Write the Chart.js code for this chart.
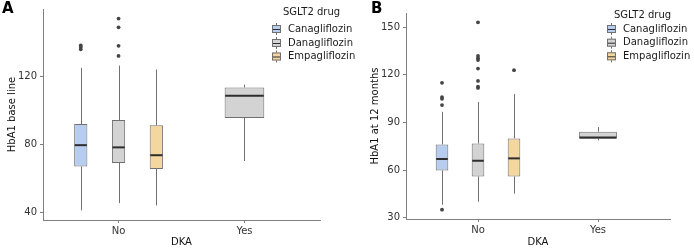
<!DOCTYPE html>
<html>
<head>
<meta charset="utf-8">
<script src="https://cdn.jsdelivr.net/npm/chart.js@4.4.1/dist/chart.umd.min.js"></script>
<style>
  html, body { margin: 0; padding: 0; background: #fff; }
  #wrap { position: relative; width: 694px; height: 248px; overflow: hidden; }
  .panel { position: absolute; top: 0; height: 248px; }
  .tag { position: absolute; font: bold 15px 'DejaVu Sans'; color: #000; }
</style>
</head>
<body>
<div id="wrap">
  <div class="panel" style="left:0;width:360px"><canvas id="chartA"></canvas></div>
  <div class="panel" style="left:360px;width:334px"><canvas id="chartB"></canvas></div>
  <div class="tag" style="left:2px;top:-1px">A</div>
  <div class="tag" style="left:371px;top:-1px">B</div>
</div>
<script>
// ---- data
const drugs = ["Canagliflozin", "Danagliflozin", "Empagliflozin"];
const dkaGroups = ["No", "Yes"];

// box stats per DKA group: [lower whisker, Q1, median, Q3, upper whisker]
const baseCana = [[41.1, 66.9, 79.4, 91.8, 124.8], null];
const baseDana = [[45.4, 69.0, 78.1, 94.1, 126.1], [70.1, 95.4, 108.4, 113.3, 114.9]];
const baseEmpa = [[44.0, 65.4, 73.5, 91.1, 123.8], null];
const baseCanaOut = [[135.7, 137.0, 137.9], []];
const baseDanaOut = [[131.8, 137.7, 148.6, 153.7], []];
const baseEmpaOut = [[], []];
const baseTicks = [40, 80, 120];

const m12Cana = [[38.2, 59.8, 67.0, 76.2, 96.7], null];
const m12Dana = [[40.1, 56.0, 65.9, 76.8, 103.0], [78.7, 79.8, 80.6, 84.2, 87.1]];
const m12Empa = [[45.2, 56.0, 67.4, 80.0, 107.9], null];
const m12CanaOut = [[35.1, 101.0, 104.9, 106.0, 115.0], []];
const m12DanaOut = [[111.8, 112.6, 116.2, 124.0, 129.4, 130.5, 131.9, 153.1], []];
const m12EmpaOut = [[123.0], []];
const m12Ticks = [30, 60, 90, 120, 150];

// ---- styles
const drugFill = ["#b7cdf0", "#d3d3d3", "#f3d79f"];
const boxLine = "#707070";
const medianLine = "#2e2e2e";
const axisColor = "#808080";
const tickColor = "#333333";
const groupWidth = 0.9;

Chart.defaults.font.family = "'DejaVu Sans'";
Chart.defaults.font.size = 10;

// whiskers behind the boxes, medians on top
const boxParts = {
  id: "boxParts",
  beforeDatasetsDraw(chart) {
    const ctx = chart.ctx, y = chart.scales.y;
    chart.data.datasets.forEach((ds, di) => {
      if (!ds.stats) return;
      chart.getDatasetMeta(di).data.forEach((bar, i) => {
        const s = ds.stats[i];
        if (!s) return;
        const x = Math.round(bar.x) + 0.5;
        ctx.save();
        ctx.strokeStyle = boxLine;
        ctx.lineWidth = 1;
        ctx.beginPath();
        ctx.moveTo(x, y.getPixelForValue(s[0]));
        ctx.lineTo(x, y.getPixelForValue(s[1]));
        ctx.moveTo(x, y.getPixelForValue(s[3]));
        ctx.lineTo(x, y.getPixelForValue(s[4]));
        ctx.stroke();
        ctx.restore();
      });
    });
  },
  afterDatasetsDraw(chart) {
    const ctx = chart.ctx, y = chart.scales.y;
    chart.data.datasets.forEach((ds, di) => {
      if (!ds.stats) return;
      chart.getDatasetMeta(di).data.forEach((bar, i) => {
        const s = ds.stats[i];
        if (!s) return;
        const py = y.getPixelForValue(s[2]);
        ctx.save();
        ctx.strokeStyle = medianLine;
        ctx.lineWidth = 2;
        ctx.beginPath();
        ctx.moveTo(bar.x - bar.width / 2 + 0.5, py);
        ctx.lineTo(bar.x + bar.width / 2 - 0.5, py);
        ctx.stroke();
        ctx.restore();
      });
    });
  }
};

// ggplot-like legend drawn inside the panel
const boxLegend = {
  id: "boxLegend",
  afterDraw(chart, args, opts) {
    const ctx = chart.ctx;
    ctx.save();
    ctx.font = "10px 'DejaVu Sans'";
    ctx.fillStyle = "#1a1a1a";
    ctx.textBaseline = "middle";
    ctx.textAlign = "left";
    ctx.fillText(opts.title, opts.titleX, opts.titleY);
    let row = 0;
    chart.data.datasets.forEach((ds) => {
      if (!ds.stats) return;
      const cy = opts.rows[row++];
      const kx = opts.keyX;
      ctx.strokeStyle = boxLine;
      ctx.lineWidth = 1;
      ctx.beginPath();
      ctx.moveTo(kx + 4.5, cy - 6);
      ctx.lineTo(kx + 4.5, cy + 6);
      ctx.stroke();
      ctx.fillStyle = ds.backgroundColor;
      ctx.fillRect(kx, cy - 4, 9, 8);
      ctx.strokeRect(kx + 0.5, cy - 3.5, 8, 7);
      ctx.strokeStyle = medianLine;
      ctx.beginPath();
      ctx.moveTo(kx + 1, cy + 0.5);
      ctx.lineTo(kx + 8, cy + 0.5);
      ctx.stroke();
      ctx.fillStyle = "#1a1a1a";
      ctx.fillText(ds.label, opts.textX, cy);
    });
    ctx.restore();
  }
};

function buildChart(id, p) {
  const all = [];
  p.stats.forEach((st, d) => {
    st.forEach((s) => { if (s) all.push(s[0], s[4]); });
    p.outliers[d].forEach((o) => all.push(...o));
  });
  const lo = Math.min(...all), hi = Math.max(...all), pad = (hi - lo) * 0.05;

  const datasets = [];
  drugs.forEach((drug, d) => {
    datasets.push({
      type: "bar",
      label: drug,
      stats: p.stats[d],
      data: dkaGroups.map((g, i) => ({
        x: i + 1,
        y: p.stats[d][i] ? [p.stats[d][i][1], p.stats[d][i][3]] : null
      })),
      backgroundColor: drugFill[d],
      borderColor: boxLine,
      borderWidth: 1,
      borderSkipped: false,
      categoryPercentage: groupWidth,
      barPercentage: 0.35,
      skipNull: true,
      order: 2
    });
  });
  // outliers, dodged like the boxes
  drugs.forEach((drug, d) => {
    const pts = [];
    dkaGroups.forEach((g, i) => {
      const present = drugs.map((_, k) => k).filter((k) => p.stats[k][i]);
      const n = present.length, k = present.indexOf(d);
      const x = i + 1 + (k - (n - 1) / 2) * (groupWidth / n);
      p.outliers[d][i].forEach((v) => pts.push({ x: x, y: v }));
    });
    datasets.push({
      type: "scatter",
      label: drug + " outliers",
      data: pts,
      pointRadius: 1.9,
      pointBackgroundColor: "#444444",
      pointBorderWidth: 0,
      showLine: false,
      order: 1
    });
  });

  return new Chart(document.getElementById(id), {
    type: "bar",
    data: { datasets: datasets },
    plugins: [boxParts, boxLegend],
    options: {
      responsive: true,
      maintainAspectRatio: false,
      animation: false,
      layout: { padding: { left: 0, right: p.padRight, top: p.padTop, bottom: 0 } },
      plugins: {
        legend: { display: false },
        tooltip: { enabled: false },
        boxLegend: p.legend
      },
      scales: {
        x: {
          type: "linear",
          min: 0.4,
          max: 2.6,
          offset: false,
          bounds: "data",
          afterBuildTicks: (s) => { s.ticks = dkaGroups.map((g, i) => ({ value: i + 1 })); },
          ticks: { callback: (v) => dkaGroups[Math.round(v) - 1], color: tickColor, padding: 2, autoSkip: false, maxRotation: 0 },
          grid: { display: true, offset: false, drawOnChartArea: false, drawTicks: true, tickLength: 3, color: axisColor },
          border: { display: true, color: axisColor, width: 1 },
          title: { display: true, text: "DKA", color: "#111", padding: { top: 0, bottom: 0 } },
          afterFit: (s) => { s.height = p.xAxisH; }
        },
        y: {
          type: "linear",
          min: lo - pad,
          max: hi + pad,
          beginAtZero: false,
          bounds: "data",
          afterBuildTicks: (s) => { s.ticks = p.ticks.map((v) => ({ value: v })); },
          ticks: { color: tickColor, padding: 3 },
          grid: { display: true, drawOnChartArea: false, drawTicks: true, tickLength: 3, color: axisColor },
          border: { display: true, color: axisColor, width: 1 },
          title: { display: true, text: p.yTitle, color: "#111", padding: { top: p.yTitlePad, bottom: 0 } },
          afterFit: (s) => { s.width = p.yAxisW; }
        }
      }
    }
  });
}

buildChart("chartA", {
  stats: [baseCana, baseDana, baseEmpa],
  outliers: [baseCanaOut, baseDanaOut, baseEmpaOut],
  ticks: baseTicks,
  yTitle: "HbA1 base line",
  yAxisW: 43, yTitlePad: 6, xAxisH: 28, padTop: 4, padRight: 40,
  legend: { title: "SGLT2 drug", titleX: 283, titleY: 12, keyX: 272, textX: 288, rows: [29, 43, 56.5] }
});

buildChart("chartB", {
  stats: [m12Cana, m12Dana, m12Empa],
  outliers: [m12CanaOut, m12DanaOut, m12EmpaOut],
  ticks: m12Ticks,
  yTitle: "HbA1 at 12 months",
  yAxisW: 46, yTitlePad: 9.7, xAxisH: 29, padTop: 13, padRight: 24,
  legend: { title: "SGLT2 drug", titleX: 254, titleY: 15, keyX: 247, textX: 263, rows: [29, 42.7, 56.3] }
});
</script>
</body>
</html>
